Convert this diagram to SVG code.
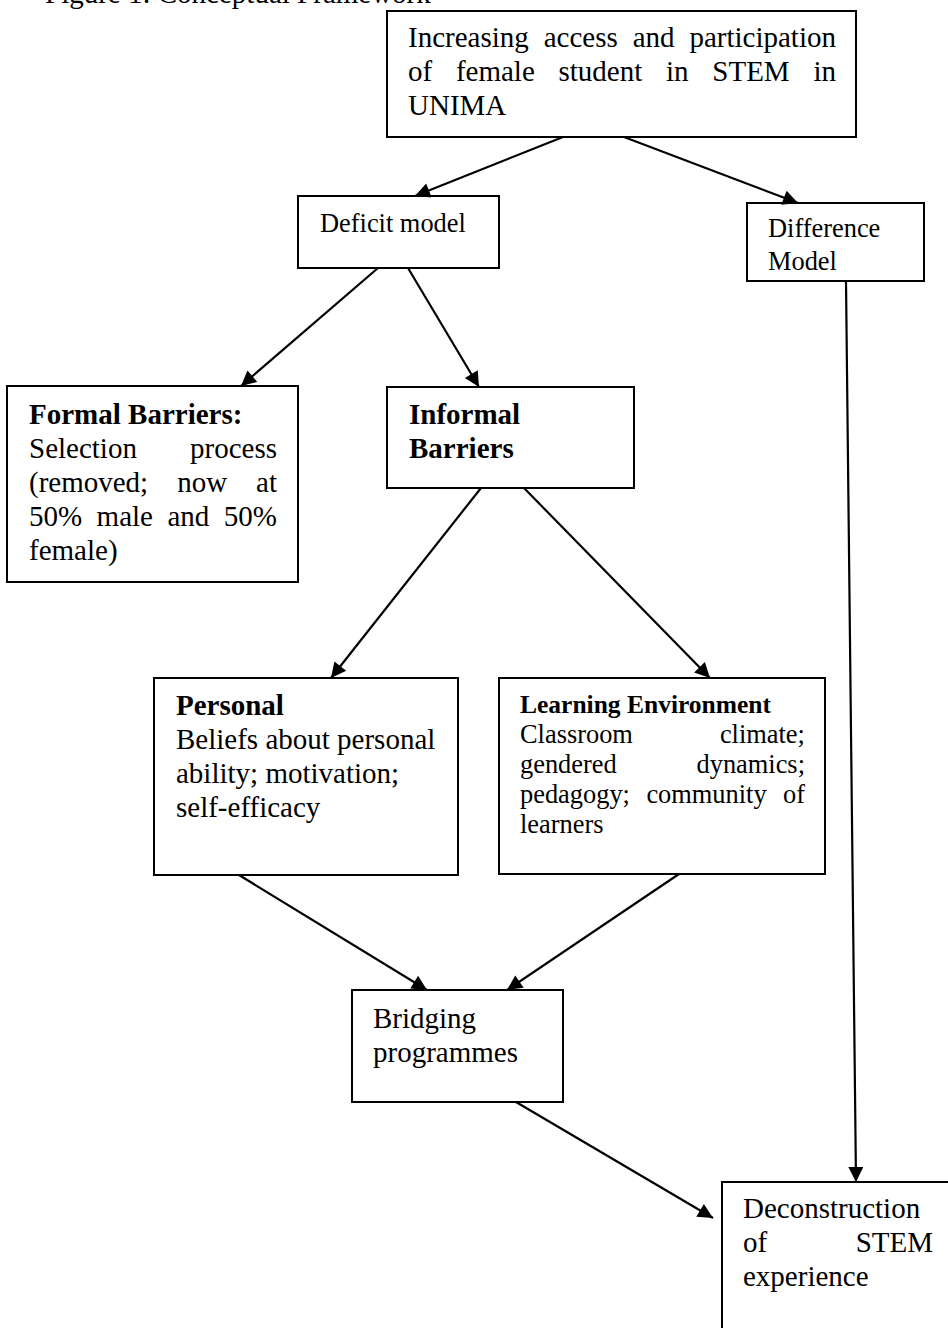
<svg xmlns="http://www.w3.org/2000/svg" width="948" height="1328" viewBox="0 0 948 1328">
<style>
  .box { fill: #fff; stroke: #000; stroke-width: 2; }
  .t { font-family: "Liberation Serif", "Times New Roman", serif; fill: #000; }
  .lg { font-size: 29px; }
  .sm { font-size: 26.4px; }
  .b { font-weight: bold; }
  .conn line { stroke: #000; stroke-width: 2.2; marker-end: url(#ah); }
</style>
<defs>
  <marker id="ah" viewBox="0 0 10 10" refX="10" refY="5" markerWidth="19" markerHeight="15" markerUnits="userSpaceOnUse" orient="auto">
    <path d="M0,0 L10,5 L0,10 Z" fill="#000"/>
  </marker>
</defs>
<rect width="948" height="1328" fill="#fff"/>

<text class="t lg" x="45" y="3">Figure 1: Conceptual Framework</text>

<g id="n-top">
  <rect class="box" x="387" y="11" width="469" height="126"/>
  <text class="t lg" y="47"><tspan x="408">Increasing</tspan><tspan x="543.7">access</tspan><tspan x="632.7">and</tspan><tspan x="689.4">participation</tspan></text>
  <text class="t lg" y="81"><tspan x="408">of</tspan><tspan x="455.9">female</tspan><tspan x="558.5">student</tspan><tspan x="666">in</tspan><tspan x="712.3">STEM</tspan><tspan x="813.4">in</tspan></text>
  <text class="t lg" x="408" y="115">UNIMA</text>
</g>

<g id="n-deficit">
  <rect class="box" x="298" y="196" width="201" height="72"/>
  <text class="t sm" x="320" y="232">Deficit model</text>
</g>

<g id="n-difference">
  <rect class="box" x="747" y="203" width="177" height="78"/>
  <text class="t sm" x="768" y="237">Difference</text>
  <text class="t sm" x="768" y="270">Model</text>
</g>

<g id="n-formal">
  <rect class="box" x="7" y="386" width="291" height="196"/>
  <text class="t lg b" x="29" y="424">Formal Barriers:</text>
  <text class="t lg" y="458"><tspan x="29">Selection</tspan><tspan x="190">process</tspan></text>
  <text class="t lg" y="492"><tspan x="29">(removed;</tspan><tspan x="177.2">now</tspan><tspan x="256.1">at</tspan></text>
  <text class="t lg" y="526"><tspan x="29">50%</tspan><tspan x="96.6">male</tspan><tspan x="167.4">and</tspan><tspan x="223.7">50%</tspan></text>
  <text class="t lg" x="29" y="560">female)</text>
</g>

<g id="n-informal">
  <rect class="box" x="387" y="387" width="247" height="101"/>
  <text class="t lg b" x="409" y="424">Informal</text>
  <text class="t lg b" x="409" y="458">Barriers</text>
</g>

<g id="n-personal">
  <rect class="box" x="154" y="678" width="304" height="197"/>
  <text class="t lg b" x="176" y="715">Personal</text>
  <text class="t lg" x="176" y="749">Beliefs about personal</text>
  <text class="t lg" x="176" y="783">ability; motivation;</text>
  <text class="t lg" x="176" y="817">self-efficacy</text>
</g>

<g id="n-learning">
  <rect class="box" x="499" y="678" width="326" height="196"/>
  <text class="t b" style="font-size:25.5px" x="520" y="713">Learning Environment</text>
  <text class="t sm" y="743"><tspan x="520">Classroom</tspan><tspan x="719.9">climate;</tspan></text>
  <text class="t sm" y="773"><tspan x="520">gendered</tspan><tspan x="696.5">dynamics;</tspan></text>
  <text class="t sm" y="803"><tspan x="520">pedagogy;</tspan><tspan x="646.4">community</tspan><tspan x="783">of</tspan></text>
  <text class="t sm" x="520" y="833">learners</text>
</g>

<g id="n-bridging">
  <rect class="box" x="352" y="990" width="211" height="112"/>
  <text class="t lg" x="373" y="1028">Bridging</text>
  <text class="t lg" x="373" y="1062">programmes</text>
</g>

<g id="n-deconstruction">
  <rect class="box" x="722" y="1182" width="240" height="170"/>
  <text class="t lg" x="743" y="1218">Deconstruction</text>
  <text class="t lg" y="1252"><tspan x="743">of</tspan><tspan x="855.7">STEM</tspan></text>
  <text class="t lg" x="743" y="1286">experience</text>
</g>

<g id="connectors" class="conn">
  <line x1="563" y1="137" x2="415" y2="196"/>
  <line x1="624" y1="137" x2="798" y2="203"/>
  <line x1="378" y1="268" x2="241" y2="386"/>
  <line x1="408" y1="268" x2="479" y2="387"/>
  <line x1="481" y1="488" x2="331" y2="678"/>
  <line x1="524" y1="488" x2="710" y2="678"/>
  <line x1="239" y1="875" x2="427" y2="990"/>
  <line x1="679" y1="874" x2="507" y2="990"/>
  <line x1="516" y1="1102" x2="713" y2="1218"/>
  <line x1="846" y1="281" x2="856" y2="1182"/>
</g>
</svg>
